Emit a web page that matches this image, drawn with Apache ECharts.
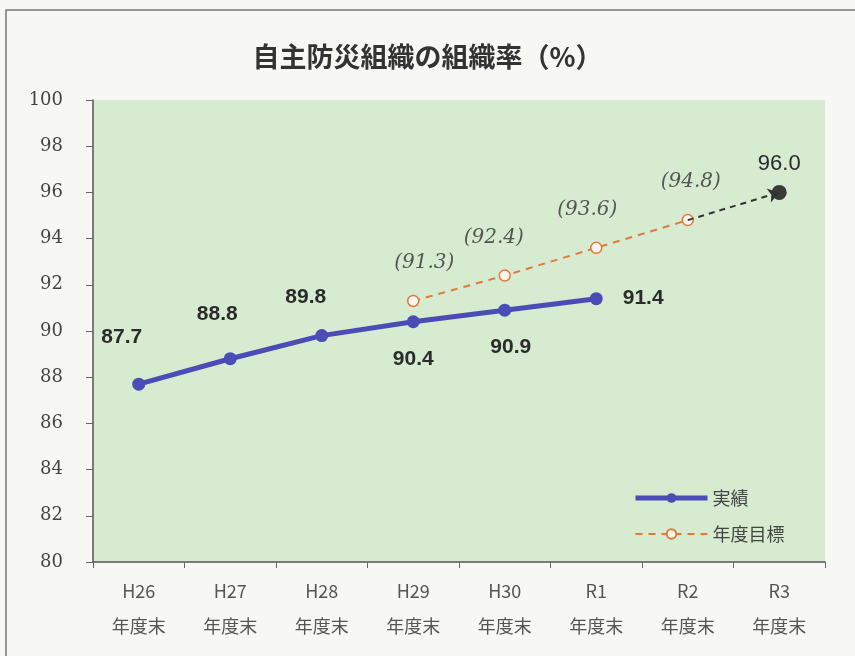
<!DOCTYPE html>
<html><head><meta charset="utf-8">
<script src="https://cdn.jsdelivr.net/npm/echarts@6/dist/echarts.min.js"></script>
<style>html,body{margin:0;padding:0;background:#f7f7f4;}#c{width:855px;height:656px;}</style>
</head><body><div id="c"></div>
<script>
const categories = ['H26','H27','H28','H29','H30','R1','R2','R3'];
const actual = [87.7, 88.8, 89.8, 90.4, 90.9, 91.4, null, null];
const target = [null, null, null, 91.3, 92.4, 93.6, 94.8, null];
const goal = [null, null, null, null, null, null, null, 96.0];
const actualLabelPos = ['top','top','top','bottom','bottom','right'];
const actualLabelOffset = [[-17,-14],[-13,-12],[-16,-5],[0,4],[6,4],[0,0]];
const targetLabelOffset = [[11,0],[-11,0],[-9,0],[3,0]];
const yTicks = {min: 80, max: 100, interval: 2};

const chart = echarts.init(document.getElementById('c'));
const valFont = {fontFamily: 'Liberation Sans', fontWeight: 'bold', fontSize: 21, color: '#2b2b2b'};
chart.setOption({
  backgroundColor: '#f7f7f4',
  title: {text: '自主防災組織の組織率（%）', left: 'center', top: 38,
    textStyle: {fontFamily: 'Noto Sans CJK JP', fontWeight: 'bold', fontSize: 27, color: '#333'}},
  graphic: [{type: 'rect', shape: {x: 6, y: 10, width: 860, height: 660},
    style: {fill: 'none', stroke: '#777', lineWidth: 1.5}}],
  grid: {left: 93, right: 30, top: 100, bottom: 94, show: true, backgroundColor: '#d6ebd0', borderWidth: 0},
  legend: {orient: 'vertical', left: 628, top: 484, itemGap: 18, itemWidth: 72, itemHeight: 12,
    textStyle: {fontFamily: 'Noto Sans CJK JP', fontSize: 18, color: '#444'},
    data: [{name: '実績', lineStyle: {width: 5}, itemStyle: {}}, {name: '年度目標'}]},
  xAxis: {type: 'category', data: categories, boundaryGap: true,
    axisLine: {lineStyle: {color: '#555', width: 1.5}},
    axisTick: {show: true, length: 6, lineStyle: {color: '#666'}},
    axisLabel: {margin: 12, lineHeight: 35, fontFamily: 'Noto Sans CJK JP', fontSize: 18, color: '#555',
      formatter: v => v + '\n年度末'}},
  yAxis: {type: 'value', min: yTicks.min, max: yTicks.max, interval: yTicks.interval,
    splitLine: {show: false},
    axisLine: {show: true, lineStyle: {color: '#555', width: 1.5}},
    axisTick: {show: true, length: 7, lineStyle: {color: '#666'}},
    axisLabel: {margin: 30, fontFamily: 'DejaVu Serif', fontSize: 18, color: '#444'}},
  series: [
    {name: '実績', type: 'line', data: actual.map((v, i) => v == null ? null : {value: v,
        label: {position: actualLabelPos[i], distance: actualLabelPos[i] === 'right' ? 20 : 16,
          offset: actualLabelOffset[i]}}),
      symbol: 'circle', symbolSize: 13, z: 3,
      lineStyle: {color: '#4a4db5', width: 5}, itemStyle: {color: '#4a4db5'},
      label: Object.assign({show: true, formatter: p => p.value.toFixed(1)}, valFont)},
    {name: '年度目標', type: 'line', data: target.map((v, i) => v == null ? null : {value: v,
        label: {offset: targetLabelOffset[i - 3]}}), connectNulls: false,
      symbol: 'circle', symbolSize: 11, z: 2,
      lineStyle: {color: '#e0793a', width: 2, type: [7, 6]},
      itemStyle: {color: '#fff6ef', borderColor: '#e0793a', borderWidth: 1.5},
      label: {show: true, position: 'top', distance: 22, formatter: p => '(' + p.value.toFixed(1) + ')',
        fontFamily: 'DejaVu Serif', fontStyle: 'italic', fontSize: 20, color: '#555'},
      markLine: {silent: true, symbol: ['none', 'arrow'], symbolSize: 11, label: {show: false},
        lineStyle: {color: '#333', width: 2, type: [6, 5]},
        data: [[{coord: ['R2', 94.8]}, {coord: ['R3', 96.0]}]]}},
    {name: '目標', type: 'line', data: goal, symbol: 'circle', symbolSize: 15,
      itemStyle: {color: '#3a3a3a'}, lineStyle: {width: 0},
      label: Object.assign({show: true, position: 'top', distance: 10, formatter: p => p.value.toFixed(1)},
        valFont, {fontWeight: 'normal', fontSize: 22})}
  ]
});
</script></body></html>
